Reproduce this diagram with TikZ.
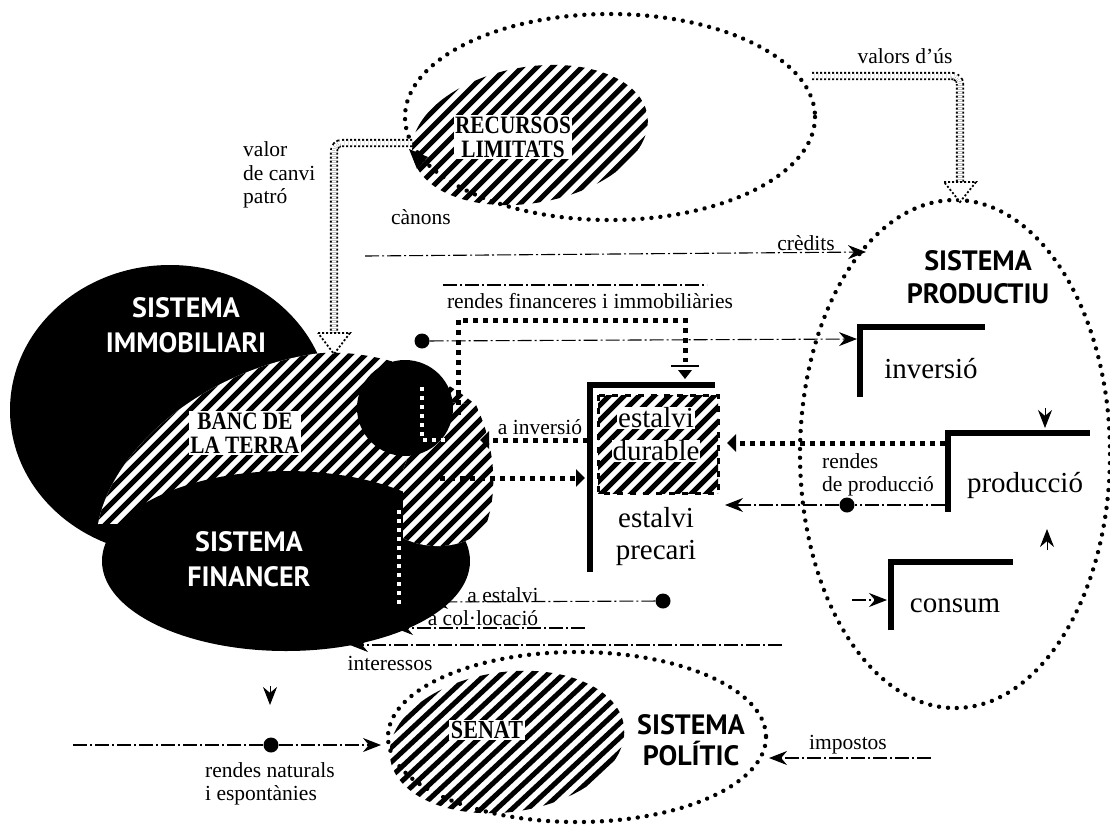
\documentclass[tikz,border=0pt]{standalone}
\usepackage{fontspec}
\setmainfont{Liberation Serif}
\newfontfamily\ptsans{PT Sans}
\newfontfamily\cserif[FakeStretch=0.85]{Liberation Serif}
\usetikzlibrary{arrows.meta,decorations.markings}
\newcommand\hatchlines[2]{\foreach \k in {#1,...,#2} \draw[line width=5pt] (\k,0) -- (\k-900,900);}
\newcommand\localhatch{\foreach \k in {-260,-241.5,...,260} \draw[line width=5pt] (\k-200,140) -- (\k+200,-140);}
\begin{document}
\begin{tikzpicture}[x=1pt,y=-1pt,
  dotring/.style={postaction={decorate}, decoration={markings, mark=between positions 0 and 1 step 9pt with {\fill (0,0) circle [radius=2.2pt];}}},
  sqdots/.style={line width=5pt, dash pattern=on 5pt off 5pt},
  wdots/.style={line width=4pt, dash pattern=on 4pt off 5pt, white},
  dbl/.style={line width=1.8pt, double=white, double distance=4.5pt, dash pattern=on 2pt off 2pt, rounded corners=8pt},
  hollowtip/.style={line width=1.8pt, dash pattern=on 2pt off 2pt, fill=white},
  thinl/.style={line width=1.1pt, dash pattern=on 14pt off 3pt on 2pt off 3pt},
  tip/.style={-{Stealth[length=18pt,width=14pt]}},
  sqtip/.style={-{Triangle[length=9pt,width=17pt]}},
  bar/.style={line width=6pt},
  sanslab/.style={font=\ptsans\bfseries\fontsize{28}{35}\selectfont, align=center, inner sep=0pt},
  serifb/.style={font=\cserif\bfseries\fontsize{25}{24}\selectfont, align=center, inner sep=1.5pt, fill=white},
  lab/.style={font=\fontsize{21.5}{23.5}\selectfont, inner sep=0pt},
  biglab/.style={font=\fontsize{29}{32}\selectfont, inner sep=0pt},
  dot/.style={circle, fill=black, minimum size=15pt, inner sep=0pt}]
\useasboundingbox (0,0) rectangle (1110,827);
\fill[white] (0,0) rectangle (1110,827);

% ---------- RECURSOS LIMITATS ----------
\begin{scope}[shift={(530,135)}, rotate=10]
  \clip (0,0) ellipse [x radius=119, y radius=68];
  \fill[white] (-130,-80) rectangle (130,80);
  \localhatch
\end{scope}
\path[dotring] (610,117) ellipse [x radius=205, y radius=103];
\node[serifb] (recursos) at (513,137) {RECURSOS\\LIMITATS};

% ---------- SISTEMA IMMOBILIARI ----------
\fill (170,410) ellipse [x radius=160, y radius=145];

% ---------- BANC DE LA TERRA (main hatch) ----------
\begin{scope}
  \clip (98,524) .. controls (112,450) and (200,372) .. (313,354)
        .. controls (355,348) and (425,362) .. (476,405) -- (482,470) -- (300,522) -- cycle;
  \fill[white] (0,0) rectangle (1110,827);
  \hatchlines{420,435}{1080}
\end{scope}

% ---------- SISTEMA FINANCER ----------
\fill (286,561) ellipse [x radius=184, y radius=90];

% right hatched bulge of the bank
\begin{scope}
  \clip (403,470) -- (403,538) .. controls (430,552) and (470,548) .. (486,525)
        .. controls (497,495) and (497,450) .. (476,405) -- (430,400) -- cycle;
  \fill[white] (0,0) rectangle (1110,827);
  \hatchlines{780,795}{1080}
\end{scope}
\fill (405,408) circle [radius=48];

\node[sanslab, text=white] (immo) at (186,325) {SISTEMA\\IMMOBILIARI};
\node[sanslab, text=white] (fin) at (249,559) {SISTEMA\\FINANCER};
\node[serifb] (banc) at (245,433) {BANC DE\\LA TERRA};

% white dotted paths inside black areas
\draw[wdots] (422,387) -- (422,440) -- (446,440);
\draw[wdots] (399,510) -- (399,606);

% ---------- SISTEMA PRODUCTIU ----------
\path[dotring] (955,454) ellipse [x radius=155, y radius=254];
\node[sanslab, font=\ptsans\bfseries\fontsize{28}{33}\selectfont] (prodsys) at (978,277) {SISTEMA\\PRODUCTIU};

% brackets
\draw[bar] (860,397) -- (860,327) -- (985,327);
\draw[bar] (948,512) -- (948,433) -- (1090,433);
\draw[bar] (891,630) -- (891,562) -- (1013,562);
\node[biglab] (inv) at (931,369) {inversió};
\node[biglab] (prod) at (1025,485) {producció};
\node[biglab] (cons) at (955,606) {consum};

% ---------- ESTALVI ----------
\begin{scope}
  \clip (598,395) rectangle (718,493);
  \fill[white] (598,395) rectangle (718,493);
  \hatchlines{975,990}{1230}
\end{scope}
\draw[line width=3pt, dash pattern=on 6pt off 7pt] (598,395) rectangle (718,493);
\draw[bar] (590,572) -- (590,385) -- (715,385);
\node[biglab, fill=white, inner sep=1pt] (ed1) at (656,418) {estalvi};
\node[biglab, fill=white, inner sep=1pt] (ed2) at (656,451) {durable};
\node[biglab] (ep1) at (656,518) {estalvi};
\node[biglab] (ep2) at (656,553) {precari};

% ---------- SISTEMA POLITIC / SENAT ----------
\begin{scope}[shift={(507,742)}, rotate=8]
  \clip (0,0) ellipse [x radius=118, y radius=70];
  \fill[white] (-130,-80) rectangle (130,80);
  \localhatch
\end{scope}
\path[dotring] (577,737) ellipse [x radius=189, y radius=85];
\node[serifb, font=\cserif\bfseries\fontsize{26}{26}\selectfont] (senat) at (487,730) {SENAT};
\node[sanslab, font=\ptsans\bfseries\fontsize{28}{31}\selectfont] (pol) at (691,740) {SISTEMA\\POLÍTIC};

% ---------- double dotted connectors ----------
\coordinate (vc1) at (412,143);
\coordinate (vc2) at (334,333);
\draw[dbl] (vc1) -| (vc2);
\draw[hollowtip] (318,333) -- (350,333) -- (334,354) -- cycle;
\fill (409,149) -- (428,157) -- (417,169) -- cycle;
\coordinate (vu1) at (812,76);
\coordinate (vu2) at (960,182);
\draw[dbl] (vu1) -| (vu2);
\draw[hollowtip] (944,182) -- (976,182) -- (960,202) -- cycle;

% ---------- thick square-dotted flows ----------
\coordinate (rf0) at (458,415);
\coordinate (rf1) at (685,362);
\draw[sqdots] (rf0) -- (458,320) -- (685,320) -- (rf1);
\draw[line width=2pt] (671,366) -- (699,366);
\fill (678,370) -- (692,370) -- (685,379) -- cycle;
\coordinate (ainv0) at (588,440);
\coordinate (ainv1) at (480,440);
\draw[sqdots, sqtip] (ainv0) -- (ainv1);
\coordinate (dur0) at (440,478);
\coordinate (dur1) at (585,478);
\draw[sqdots, sqtip] (dur0) -- (dur1);
\coordinate (rp0) at (945,443);
\coordinate (rp1) at (727,443);
\draw[sqdots, sqtip] (rp0) -- (rp1);

% ---------- thin flows ----------
\node[dot] (dfin) at (422,341) {};
\node[dot] (dprod) at (847,505) {};
\node[dot] (dest) at (663,601) {};
\node[dot] (dnat) at (271,745) {};
\coordinate (cr0) at (365,256);
\coordinate (cr1) at (866,252);
\draw[thinl, tip] (cr0) -- (cr1);
\coordinate (rfl0) at (443,285);
\coordinate (rfl1) at (707,285);
\draw[thinl] (rfl0) -- (rfl1);
\coordinate (invin) at (857,339);
\draw[thinl, tip] (dfin) -- (invin);
\coordinate (prodout) at (945,505);
\coordinate (precin) at (725,505);
\draw[thinl] (prodout) -- (dprod);
\draw[thinl, tip] (dprod) -- (precin);
\coordinate (estin) at (430,602);
\draw[thinl, tip] (dest) -- (estin);
\coordinate (col0) at (585,628);
\coordinate (col1) at (395,628);
\draw[thinl, tip] (col0) -- (col1);
\coordinate (int0) at (782,645);
\coordinate (int1) at (350,645);
\draw[thinl, tip] (int0) -- (int1);
\coordinate (imp0) at (931,758);
\coordinate (imp1) at (769,758);
\draw[thinl, tip] (imp0) -- (imp1);
\coordinate (nat0) at (73,745);
\coordinate (nat1) at (381,745);
\draw[thinl] (nat0) -- (dnat);
\draw[thinl, tip] (dnat) -- (nat1);
\coordinate (con0) at (852,600);
\coordinate (con1) at (887,600);
\draw[thinl, tip] (con0) -- (con1);
% isolated arrowheads
\coordinate (a1) at (270,686);
\coordinate (a2) at (270,705);
\draw[tip, line width=1pt] (a1) -- (a2);
\coordinate (a3) at (1045,408);
\coordinate (a4) at (1045,428);
\draw[tip, line width=1pt] (a3) -- (a4);
\coordinate (a5) at (1047,550);
\coordinate (a6) at (1047,529);
\draw[tip, line width=1pt] (a5) -- (a6);

% ---------- small labels ----------
\node[lab, anchor=west, align=left] (valor) at (243,175) {valor\\de canvi\\patró};
\node[lab] (canons) at (421,217) {cànons};
\node[lab] (valors) at (905,56) {valors d’ús};
\node[lab] (credits) at (806,243) {crèdits};
\node[lab] (rfin) at (590,301) {rendes financeres i immobiliàries};
\node[lab] (ainv) at (540,427) {a inversió};
\node[lab, anchor=west, align=left] (rprod) at (822,475) {rendes\\de producció};
\node[lab] (aest) at (503,595) {a estalvi};
\node[lab] (acol) at (483,618) {a col·locació};
\node[lab] (inter) at (390,663) {interessos};
\node[lab] (impo) at (848,745) {impostos};
\node[lab, anchor=west, align=left] (rnat) at (205,784) {rendes naturals\\i espontànies};
\end{tikzpicture}
\end{document}
